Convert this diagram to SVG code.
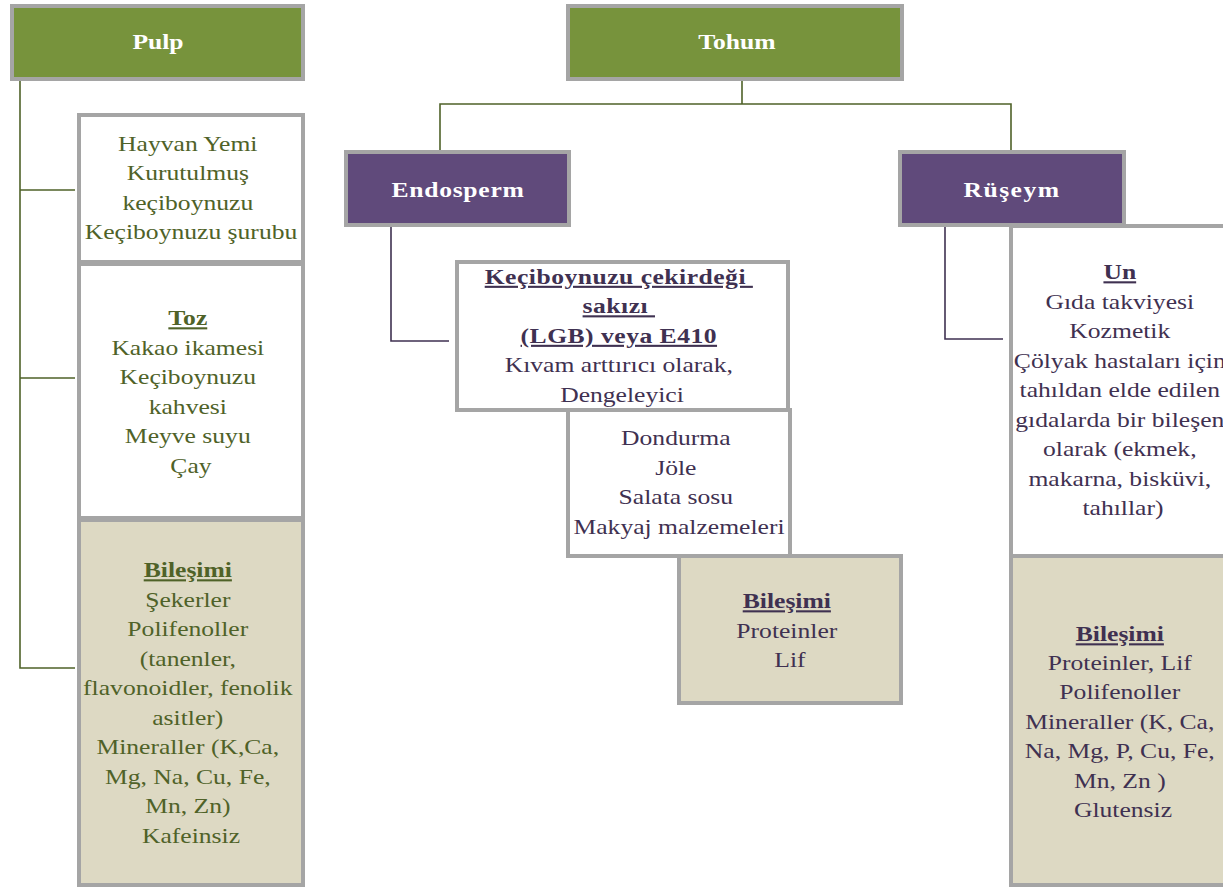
<svg xmlns="http://www.w3.org/2000/svg" width="1223" height="889" viewBox="0 0 1223 889">
<style>
  .box{stroke:#a5a5a5;stroke-width:4}
  .g{fill:#77933c}
  .p{fill:#604a7b}
  .w{fill:#ffffff}
  .t{fill:#ddd9c3}
  text{font-family:"Liberation Serif","Times New Roman",serif;font-size:21px;text-anchor:middle}
  .hd{fill:#ffffff;font-weight:bold}
  .gt{fill:#4f6228}
  .pt{fill:#3f3151}
  .b{font-weight:bold;text-decoration:underline}
  .cg{stroke:#4f6228;stroke-width:1.6;fill:none}
  .cp{stroke:#3f3151;stroke-width:1.6;fill:none}
</style>
<g id="connectors">
  <path class="cg" d="M20,81 V668 H75 M20,190 H75 M20,378 H75"/>
  <path class="cg" d="M742,81 V104 M440,150 V104 H1011 V150"/>
  <path class="cp" d="M391,227 V341 H449"/>
  <path class="cp" d="M945,217 V339 H1003"/>
</g>
<g id="pulp">
  <rect class="box g" x="12" y="6" width="291" height="73"/>
  <text class="hd" transform="translate(158 0) scale(1.22 1)" x="0" y="49">Pulp</text>
</g>
<g id="tohum">
  <rect class="box g" x="568" y="6" width="334" height="73"/>
  <text class="hd" transform="translate(737 0) scale(1.22 1)" x="0" y="49">Tohum</text>
</g>
<g id="endosperm">
  <rect class="box p" x="346" y="152" width="223" height="73"/>
  <text class="hd" transform="translate(458 0) scale(1.22 1)" x="0" y="197" letter-spacing="0.6">Endosperm</text>
</g>
<g id="ruseym">
  <rect class="box p" x="900" y="152" width="224" height="73"/>
  <text class="hd" transform="translate(1012 0) scale(1.22 1)" x="0" y="197" letter-spacing="1.2">Rüşeym</text>
</g>
<g id="pulp-uses">
  <rect class="box w" x="79" y="115" width="224" height="147"/>
  <text class="gt" transform="translate(191 0) scale(1.22 1)">
    <tspan x="0" y="151">Hayvan Yemi</tspan>
    <tspan x="0" y="180.5">Kurutulmuş</tspan>
    <tspan x="0" y="210">keçiboynuzu</tspan>
    <tspan x="0" y="239.5">Keçiboynuzu şurubu</tspan>
  </text>
</g>
<g id="pulp-toz">
  <rect class="box w" x="79" y="264" width="224" height="254"/>
  <text class="gt" transform="translate(191 0) scale(1.22 1)">
    <tspan class="b" x="0" y="325.5">Toz</tspan>
    <tspan x="0" y="355">Kakao ikamesi</tspan>
    <tspan x="0" y="384.5">Keçiboynuzu</tspan>
    <tspan x="0" y="414">kahvesi</tspan>
    <tspan x="0" y="443.5">Meyve suyu</tspan>
    <tspan x="0" y="473">Çay</tspan>
  </text>
</g>
<g id="pulp-bilesimi">
  <rect class="box t" x="79" y="520" width="224" height="365"/>
  <text class="gt" transform="translate(191 0) scale(1.22 1)">
    <tspan class="b" x="0" y="577.5">Bileşimi</tspan>
    <tspan x="0" y="607">Şekerler</tspan>
    <tspan x="0" y="636.5">Polifenoller</tspan>
    <tspan x="0" y="666">(tanenler,</tspan>
    <tspan x="0" y="695.5">flavonoidler, fenolik</tspan>
    <tspan x="0" y="725">asitler)</tspan>
    <tspan x="0" y="754.5">Mineraller (K,Ca,</tspan>
    <tspan x="0" y="784">Mg, Na, Cu, Fe,</tspan>
    <tspan x="0" y="813.5">Mn, Zn)</tspan>
    <tspan x="0" y="843">Kafeinsiz</tspan>
  </text>
</g>
<g id="dondurma">
  <rect class="box w" x="568" y="410" width="222" height="146"/>
  <text class="pt" transform="translate(679 0) scale(1.22 1)">
    <tspan x="0" y="445.5">Dondurma</tspan>
    <tspan x="0" y="475">Jöle</tspan>
    <tspan x="0" y="504.5">Salata sosu</tspan>
    <tspan x="0" y="534">Makyaj malzemeleri</tspan>
  </text>
</g>
<g id="lgb">
  <rect class="box w" x="457" y="262" width="331" height="148"/>
  <text class="pt" transform="translate(622 0) scale(1.22 1)">
    <tspan class="b" x="0" y="284" letter-spacing="0.4" xml:space="preserve">Keçiboynuzu çekirdeği </tspan>
    <tspan class="b" x="0" y="313.5" letter-spacing="0.4" xml:space="preserve">sakızı </tspan>
    <tspan class="b" x="0" y="343" letter-spacing="0.4">(LGB) veya E410</tspan>
    <tspan x="0" y="372.5">Kıvam arttırıcı olarak,</tspan>
    <tspan x="0" y="402">Dengeleyici</tspan>
  </text>
</g>
<g id="endo-bilesimi">
  <rect class="box t" x="679" y="556" width="222" height="147"/>
  <text class="pt" transform="translate(790 0) scale(1.22 1)">
    <tspan class="b" x="0" y="608.5">Bileşimi</tspan>
    <tspan x="0" y="638">Proteinler</tspan>
    <tspan x="0" y="667.5">Lif</tspan>
  </text>
</g>
<g id="un">
  <rect class="box w" x="1011" y="226" width="226" height="330"/>
  <text class="pt" transform="translate(1123 0) scale(1.22 1)">
    <tspan class="b" x="0" y="279.5">Un</tspan>
    <tspan x="0" y="309">Gıda takviyesi</tspan>
    <tspan x="0" y="338.5">Kozmetik</tspan>
    <tspan x="0" y="368">Çölyak hastaları için</tspan>
    <tspan x="0" y="397.5">tahıldan elde edilen</tspan>
    <tspan x="0" y="427">gıdalarda bir bileşen</tspan>
    <tspan x="0" y="456.5">olarak (ekmek,</tspan>
    <tspan x="0" y="486">makarna, bisküvi,</tspan>
    <tspan x="0" y="515.5">tahıllar)</tspan>
  </text>
</g>
<g id="ruseym-bilesimi">
  <rect class="box t" x="1011" y="556" width="226" height="329"/>
  <text class="pt" transform="translate(1123 0) scale(1.22 1)">
    <tspan class="b" x="0" y="641.5">Bileşimi</tspan>
    <tspan x="0" y="670">Proteinler, Lif</tspan>
    <tspan x="0" y="699.5">Polifenoller</tspan>
    <tspan x="0" y="729">Mineraller (K, Ca,</tspan>
    <tspan x="0" y="758.5">Na, Mg, P, Cu, Fe,</tspan>
    <tspan x="0" y="788">Mn, Zn )</tspan>
    <tspan x="0" y="817.5">Glutensiz</tspan>
  </text>
</g>
</svg>
